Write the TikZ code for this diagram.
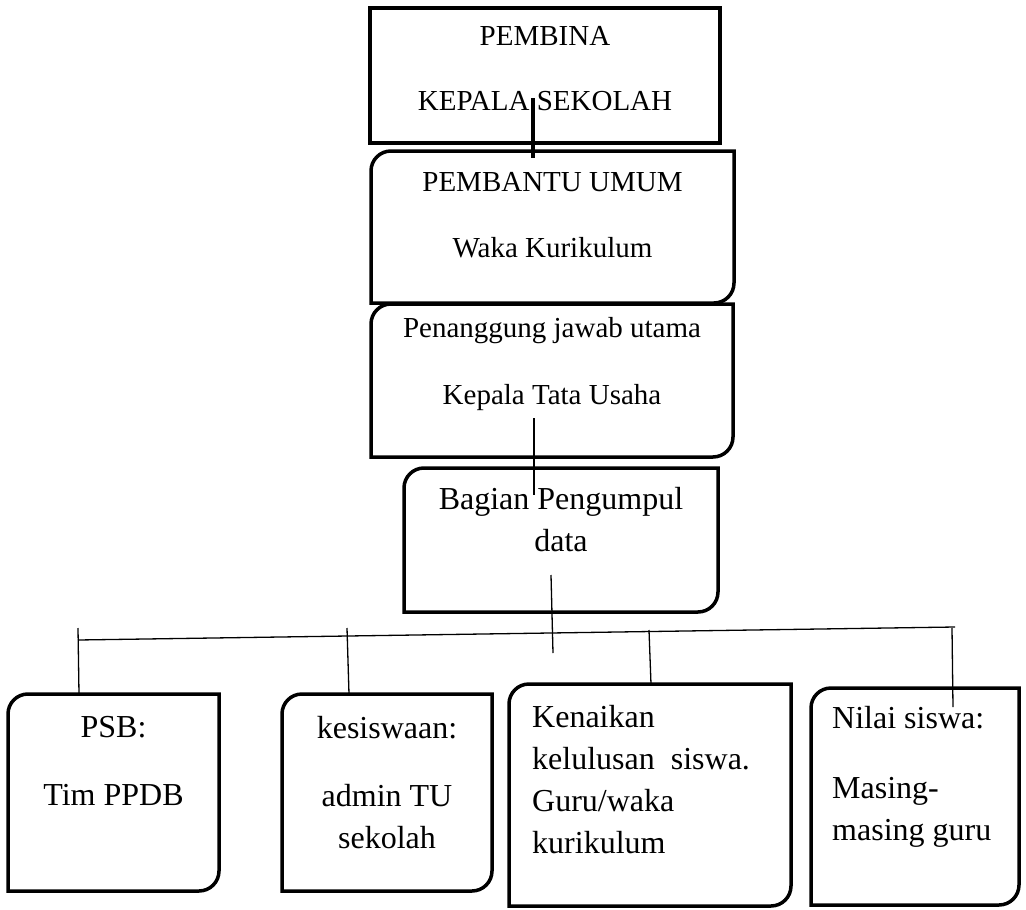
\documentclass[tikz,border=0pt]{standalone}
\usepackage{fontspec}
\setmainfont{Liberation Serif}
\usetikzlibrary{positioning}

\begin{document}
\begin{tikzpicture}[
    x=1pt, y=1pt,
    box/.style={
        rectangle, draw=black, line width=3.5pt,
        inner sep=0pt, outer sep=0pt
    },
    tab/.style={rectangle, inner sep=0pt, outer sep=0pt},
    outline/.style={draw=black, line width=3.5pt},
    boxtxt/.style={font=\fontsize{29}{34}\selectfont, align=center, inner sep=0pt},
    leaftxt/.style={font=\fontsize{32}{42}\selectfont, align=center, inner sep=0pt},
    conn/.style={line width=1.3pt, black},
    mainconn/.style={line width=3.5pt, black}
]
\useasboundingbox (0,0) rectangle (1026,-910);

% ===================================================================
% TOP: pembina / kepala sekolah
% ===================================================================
\node[box, minimum width=350pt, minimum height=135pt] (pembina) at (545,-75.5) {};
\node[boxtxt, below=18pt of pembina.north] (pembinatxt)
    {PEMBINA\\[31pt]KEPALA SEKOLAH};

% ===================================================================
% CHAIN OF RESPONSIBILITY
% ===================================================================
\node[tab, minimum width=363pt, minimum height=152pt] (pembantu) at (552.5,-227) {};
\node[boxtxt, below=21pt of pembantu.north] (pembantutxt)
    {PEMBANTU UMUM\\[32pt]Waka Kurikulum};

\node[tab, minimum width=362pt, minimum height=153pt] (penanggung) at (552,-380.5) {};
\node[boxtxt, below=13pt of penanggung.north] (penanggungtxt)
    {Penanggung jawab utama\\[33pt]Kepala Tata Usaha};

\node[tab, minimum width=314pt, minimum height=144pt] (bagian) at (561,-540) {};
\node[leaftxt, below=19pt of bagian.north] (bagiantxt)
    {Bagian Pengumpul\\data};

% ===================================================================
% BOTTOM ROW
% ===================================================================
\node[tab, minimum width=211pt, minimum height=197pt] (psb) at (113.5,-792.5) {};
\node[leaftxt, below=22pt of psb.north] (psbtxt)
    {PSB:\\[26pt]Tim PPDB};

\node[tab, minimum width=210pt, minimum height=197pt] (kesiswaan) at (387,-792.5) {};
\node[leaftxt, below=22pt of kesiswaan.north] (kesiswaantxt)
    {kesiswaan:\\[26pt]admin TU\\sekolah};

\node[tab, minimum width=282pt, minimum height=222pt] (kenaikan) at (650,-795) {};
\node[leaftxt, align=left, below right=21pt and 23pt of kenaikan.north west] (kenaikantxt)
    {Kenaikan\\kelulusan \ siswa.\\Guru/waka\\kurikulum};

\node[tab, minimum width=208pt, minimum height=217pt] (nilai) at (915,-796.5) {};
\node[leaftxt, align=left, below right=18pt and 21pt of nilai.north west] (nilaitxt)
    {Nilai siswa:\\[28pt]Masing-\\masing guru};

% outlines: rounded top-left and bottom-right
\foreach \b in {pembantu,penanggung,bagian,psb,kesiswaan,kenaikan,nilai}
    \draw[outline] ([xshift=20pt]\b.north west) -- (\b.north east)
        -- ([yshift=20pt]\b.south east) arc[start angle=0, end angle=-90, radius=20pt]
        -- (\b.south west) -- ([yshift=-20pt]\b.north west)
        arc[start angle=180, end angle=90, radius=20pt] -- cycle;

% ===================================================================
% CONNECTORS
% ===================================================================
\draw[mainconn] ([xshift=-12pt, yshift=45pt]pembina.south)
    -- ([xshift=-19.5pt, yshift=-7pt]pembantu.north);
\draw[conn] ([xshift=-18pt, yshift=39pt]penanggung.south)
    -- ([xshift=-27pt, yshift=-27pt]bagian.north);
\draw[conn] ([xshift=-10pt, yshift=37pt]bagian.south)
    -- ([xshift=-8pt, yshift=-41pt]bagian.south);

\coordinate (busL) at (78,-640);
\coordinate (busR) at (955,-627);
\draw[conn] (busL) -- (busR);

\draw[conn] ([xshift=-35.5pt, yshift=66pt]psb.north) -- ([xshift=-34.5pt]psb.north);
\draw[conn] ([xshift=-40pt, yshift=66pt]kesiswaan.north) -- ([xshift=-38pt]kesiswaan.north);
\draw[conn] ([xshift=-1pt, yshift=54pt]kenaikan.north) -- ([xshift=1pt]kenaikan.north);
\draw[conn] ([xshift=37pt, yshift=60pt]nilai.north) -- ([xshift=38pt, yshift=-19pt]nilai.north);

\end{tikzpicture}
\end{document}
